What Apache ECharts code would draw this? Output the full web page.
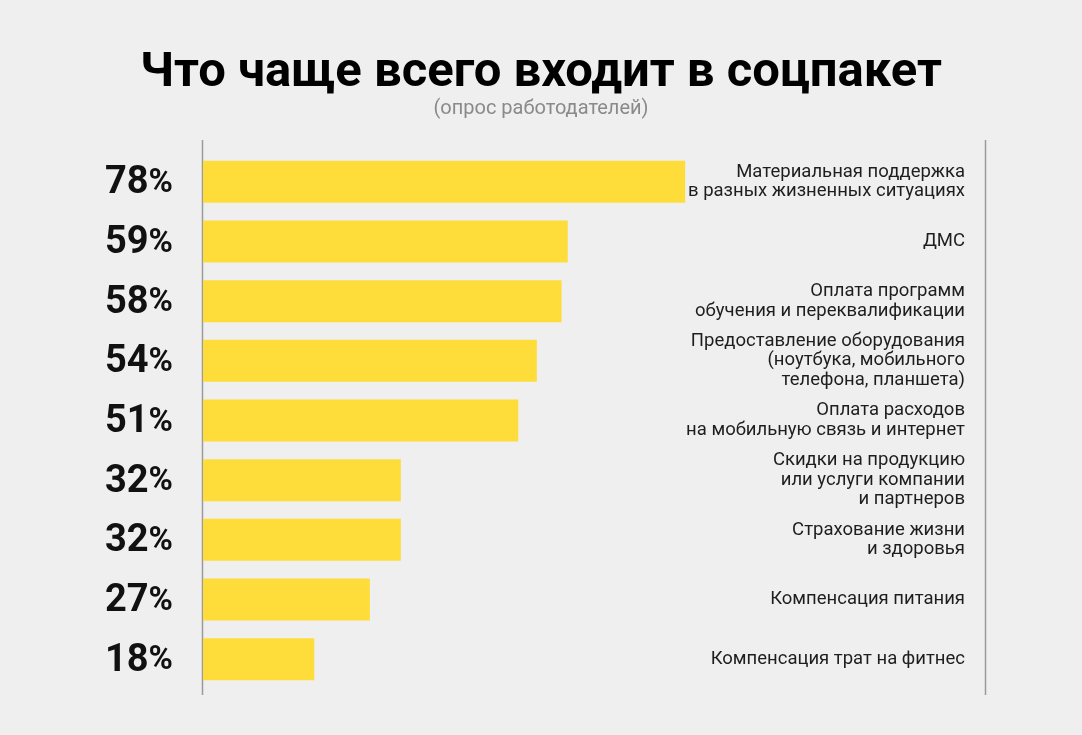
<!DOCTYPE html>
<html><head><meta charset="utf-8">
<script src="https://cdn.jsdelivr.net/npm/echarts@6/dist/echarts.min.js"></script>
<style>html,body{margin:0;padding:0;background:#efefef;}#c{width:1082px;height:735px;}</style>
</head><body><div id="c"></div>
<script>
const categories = [
  'Материальная поддержка\nв разных жизненных ситуациях',
  'ДМС',
  'Оплата программ\nобучения и переквалификации',
  'Предоставление оборудования\n(ноутбука, мобильного\nтелефона, планшета)',
  'Оплата расходов\nна мобильную связь и интернет',
  'Скидки на продукцию\nили услуги компании\nи партнеров',
  'Страхование жизни\nи здоровья',
  'Компенсация питания',
  'Компенсация трат на фитнес'
];
const values = [78, 59, 58, 54, 51, 32, 32, 27, 18];
const titleText = 'Что чаще всего входит в соцпакет';
const subtitleText = '(опрос работодателей)';

const chart = echarts.init(document.getElementById('c'));
chart.setOption({
  backgroundColor: '#efefef',
  animation: false,
  title: {
    text: titleText,
    subtext: subtitleText,
    left: 'center',
    top: 44,
    itemGap: 1,
    textStyle: {fontFamily: 'Roboto', fontWeight: 'bold', fontSize: 49, color: '#000'},
    subtextStyle: {fontFamily: 'Roboto', fontSize: 20, color: '#8a8a8a'}
  },
  grid: {left: 203, right: 97, top: 152, bottom: 46},
  xAxis: {type: 'value', min: 0, max: 126.5, show: false},
  yAxis: [{
    type: 'category', inverse: true, data: categories,
    axisLine: {show: false}, axisTick: {show: false},
    axisLabel: {
      margin: 30,
      formatter: (v, i) => '{n|' + values[i] + '}{p|%}',
      rich: {
        n: {fontFamily: 'Roboto', fontWeight: 'bold', fontSize: 38, color: '#111', padding: [4, 0, 0, 0]},
        p: {fontFamily: 'Roboto', fontWeight: 'bold', fontSize: 33, color: '#111', padding: [4, 0, 0, 0]}
      }
    }
  }, {
    type: 'category', inverse: true, data: categories, position: 'right',
    axisLine: {show: false}, axisTick: {show: false},
    axisLabel: {inside: true, margin: 20, fontFamily: 'Roboto', fontSize: 18.5, lineHeight: 19.5, color: '#1e1e1e', align: 'right'}
  }],
  series: [{
    type: 'bar', data: values, barWidth: 42,
    itemStyle: {color: '#fedc3a'}
  }],
  graphic: [
    {type: 'line', shape: {x1: 202.5, y1: 140, x2: 202.5, y2: 695}, style: {stroke: '#9a9a9a', lineWidth: 1.5}},
    {type: 'line', shape: {x1: 985.5, y1: 140, x2: 985.5, y2: 695}, style: {stroke: '#9a9a9a', lineWidth: 1.5}}
  ]
});
</script></body></html>
